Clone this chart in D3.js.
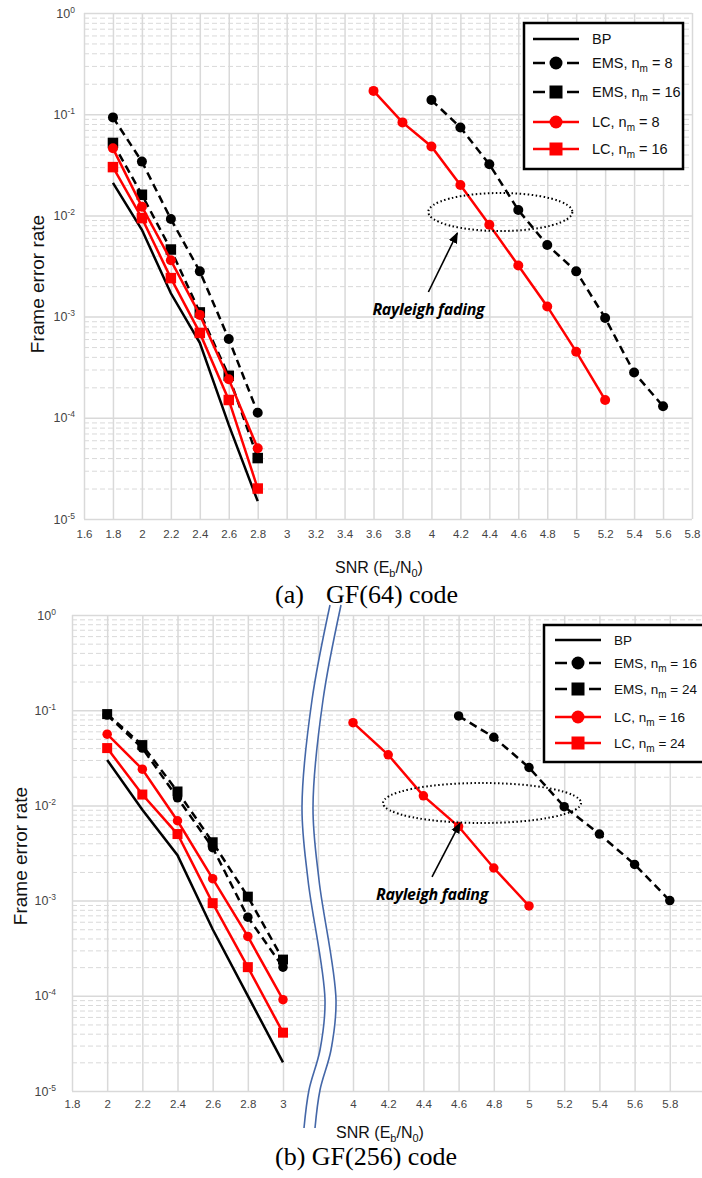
<!DOCTYPE html>
<html>
<head>
<meta charset="utf-8">
<script src="https://cdn.jsdelivr.net/npm/d3@7"></script>
<style>
  body { margin: 0; background: #fff; }
  svg { display: block; font-family: "Liberation Sans", Arial, sans-serif; }
</style>
</head>
<body>
<div id="chart"></div>
<script>
// ---------- (a) GF(64) code ----------
const snrA = [1.8, 2, 2.2, 2.4, 2.6, 2.8];
const bpA = [0.021, 0.0072, 0.0017, 0.00055, 0.000085, 0.000015];
const emsA8 = [0.093, 0.034, 0.0092, 0.0028, 0.0006, 0.000112];
const emsA16 = [0.052, 0.016, 0.0046, 0.0011, 0.00026, 0.00004];
const lcA8 = [0.046, 0.0122, 0.0036, 0.00104, 0.00024, 0.00005];
const lcA16 = [0.030, 0.0094, 0.0024, 0.00069, 0.00015, 0.00002];
// Rayleigh fading, GF(64)
const snrALc = [3.6, 3.8, 4, 4.2, 4.4, 4.6, 4.8, 5, 5.2];
const lcA8Ray = [0.17, 0.083, 0.048, 0.020, 0.0081, 0.0032, 0.00126, 0.00045, 0.00015];
const snrAEms = [4, 4.2, 4.4, 4.6, 4.8, 5, 5.2, 5.4, 5.6];
const emsA8Ray = [0.138, 0.074, 0.032, 0.0113, 0.0051, 0.0028, 0.00097, 0.00028, 0.00013];
const ticksA = [1.6, 1.8, 2, 2.2, 2.4, 2.6, 2.8, 3, 3.2, 3.4, 3.6, 3.8, 4, 4.2, 4.4, 4.6, 4.8, 5, 5.2, 5.4, 5.6, 5.8];

// ---------- (b) GF(256) code ----------
const snrB = [2, 2.2, 2.4, 2.6, 2.8, 3];
const bpB = [0.030, 0.0090, 0.0030, 0.0005, 0.0001, 0.00002];
const emsB16 = [0.089, 0.040, 0.012, 0.0036, 0.00067, 0.00020];
const emsB24 = [0.091, 0.043, 0.014, 0.0041, 0.0011, 0.00024];
const lcB16 = [0.056, 0.024, 0.0069, 0.0017, 0.00042, 0.000091];
const lcB24 = [0.040, 0.013, 0.005, 0.00094, 0.0002, 0.000041];
// Rayleigh fading, GF(256)
const snrBLc = [4, 4.2, 4.4, 4.6, 4.8, 5];
const lcB16Ray = [0.074, 0.034, 0.0126, 0.006, 0.0022, 0.00088];
const snrBEms = [4.6, 4.8, 5, 5.2, 5.4, 5.6, 5.8];
const emsB16Ray = [0.087, 0.052, 0.025, 0.0097, 0.005, 0.0024, 0.001];
const ticksB = [1.8, 2, 2.2, 2.4, 2.6, 2.8, 3, 4, 4.2, 4.4, 4.6, 4.8, 5, 5.2, 5.4, 5.6, 5.8];

const decades = [1, 0.1, 0.01, 0.001, 0.0001, 0.00001];

const svg = d3.select("#chart").append("svg")
  .attr("width", 702)
  .attr("height", 1178);

const defs = svg.append("defs");
defs.append("marker")
  .attr("id", "arrow")
  .attr("viewBox", "0 0 10 10")
  .attr("refX", 9).attr("refY", 5)
  .attr("markerWidth", 7).attr("markerHeight", 7)
  .attr("orient", "auto")
  .append("path")
  .attr("d", "M0,1 L10,5 L0,9 z")
  .attr("fill", "#000");

const zip = (xs, ys) => xs.map((v, i) => ({ x: v, y: ys[i] }));

// series styling
const styles = {
  bp: { color: "#000", dash: null, marker: null },
  emsC: { color: "#000", dash: "8,5", marker: "circle" },
  emsS: { color: "#000", dash: "8,5", marker: "square" },
  lcC: { color: "#ff0000", dash: null, marker: "circle" },
  lcS: { color: "#ff0000", dash: null, marker: "square" }
};

function drawMarker(g, type, cx, cy, size, color) {
  if (type === "circle") {
    g.append("circle").attr("cx", cx).attr("cy", cy).attr("r", size / 2).attr("fill", color);
  } else if (type === "square") {
    g.append("rect").attr("x", cx - size / 2).attr("y", cy - size / 2)
      .attr("width", size).attr("height", size).attr("fill", color);
  }
}

function drawPanel(p) {
  const x = d3.scaleLinear().domain(p.xDomain).range(p.xRange);
  const y = d3.scaleLog().domain([1e-5, 1]).range([p.bottom, p.top]);
  const left = p.xRange[0];
  const right = p.xRange[p.xRange.length - 1];
  const width = right - left;
  const g = svg.append("g");

  // minor dashed grid
  const minor = y.ticks().filter(d => !decades.some(k => Math.abs(d - k) / k < 1e-6));
  g.append("g")
    .attr("transform", `translate(${left},0)`)
    .call(d3.axisLeft(y).tickValues(minor).tickSize(-width).tickFormat(""))
    .call(a => a.select(".domain").remove())
    .selectAll("line")
    .attr("stroke", "#d9d9d9").attr("stroke-width", 1).attr("stroke-dasharray", "5,3");

  // major grid
  g.append("g")
    .attr("transform", `translate(${left},0)`)
    .call(d3.axisLeft(y).tickValues(decades).tickSize(-width).tickFormat(""))
    .call(a => a.select(".domain").remove())
    .selectAll("line")
    .attr("stroke", "#d9d9d9").attr("stroke-width", 1.5);

  g.append("g")
    .attr("transform", `translate(0,${p.bottom})`)
    .call(d3.axisBottom(x).tickValues(p.gridX).tickSize(-(p.bottom - p.top)).tickFormat(""))
    .call(a => a.select(".domain").remove())
    .selectAll("line")
    .attr("stroke", "#d9d9d9").attr("stroke-width", 1.5);

  // tick labels
  g.append("g")
    .attr("transform", `translate(0,${p.bottom})`)
    .call(d3.axisBottom(x).tickValues(p.ticks).tickSize(0).tickPadding(p.xPad).tickFormat(d => d))
    .call(a => a.select(".domain").remove())
    .selectAll("text")
    .attr("font-size", 11.5).attr("fill", "#444").attr("font-family", "Liberation Sans, Arial, sans-serif");

  g.append("g")
    .attr("transform", `translate(${left},0)`)
    .call(d3.axisLeft(y).tickValues(decades).tickSize(0).tickPadding(p.yPad))
    .call(a => a.select(".domain").remove())
    .selectAll("text")
    .attr("font-size", 12.5).attr("fill", "#444").attr("font-family", "Liberation Sans, Arial, sans-serif")
    .each(function(d) {
      const t = d3.select(this).text("");
      t.append("tspan").text("10");
      t.append("tspan").attr("dy", -5).attr("font-size", 8.5).text(Math.round(Math.log10(d)));
    });

  // break symbol
  if (p.brk) {
    const b = p.brk;
    const c = x(b.at);
    const lineGen = d3.line().curve(d3.curveCatmullRom);
    const leftPts = b.path.map(d => [c + d[0], d[1]]);
    const rightPts = b.path.map(d => [c + d[0] + b.gap, d[1]]);
    const band = lineGen(leftPts) + "L" + lineGen(rightPts.slice().reverse()).slice(1) + "Z";
    g.append("path").attr("d", band).attr("fill", "#fff");
    [leftPts, rightPts].forEach(pts => {
      g.append("path").attr("d", lineGen(pts))
        .attr("fill", "none").attr("stroke", "#4467a8").attr("stroke-width", 1.6);
    });
  }

  // series
  p.series.forEach(s => {
    const st = styles[s.style];
    const pts = zip(s.x, s.y);
    g.append("path")
      .datum(pts)
      .attr("d", d3.line().x(d => x(d.x)).y(d => y(d.y)))
      .attr("fill", "none")
      .attr("stroke", st.color)
      .attr("stroke-width", 2.5)
      .attr("stroke-dasharray", st.dash);
    if (st.marker) {
      const mg = g.append("g");
      pts.forEach(d => drawMarker(mg, st.marker, x(d.x), y(d.y), st.marker === "circle" ? p.msize : p.msize + 0.5, st.color));
    }
  });

  // Rayleigh annotation
  const an = p.note;
  g.append("ellipse")
    .attr("cx", x(an.cx)).attr("cy", y(an.cy))
    .attr("rx", an.rx).attr("ry", an.ry)
    .attr("fill", "none").attr("stroke", "#000")
    .attr("stroke-width", 2).attr("stroke-dasharray", "1.5,2.5");
  g.append("line")
    .attr("x1", x(an.tail[0])).attr("y1", y(an.tail[1]))
    .attr("x2", x(an.tip[0])).attr("y2", y(an.tip[1]))
    .attr("stroke", "#000").attr("stroke-width", 1.6)
    .attr("marker-end", "url(#arrow)");
  g.append("text")
    .attr("x", x(an.tx)).attr("y", y(an.ty))
    .attr("text-anchor", "middle")
    .attr("font-family", "Open Sans, sans-serif")
    .attr("font-weight", "bold").attr("font-style", "italic")
    .attr("font-size", 16)
    .attr("letter-spacing", -0.3)
    .text("Rayleigh fading");

  // legend
  const lg = p.legend;
  const lgG = g.append("g");
  lgG.append("rect")
    .attr("x", lg.x).attr("y", lg.y).attr("width", lg.w).attr("height", lg.h)
    .attr("fill", "#fff").attr("stroke", "#000").attr("stroke-width", 2.5);
  lg.items.forEach((it, i) => {
    const st = styles[it.style];
    const yy = lg.rows[i];
    lgG.append("line")
      .attr("x1", lg.sx).attr("x2", lg.sx + 46).attr("y1", yy).attr("y2", yy)
      .attr("stroke", st.color).attr("stroke-width", 2.5)
      .attr("stroke-dasharray", st.dash ? "12,22" : null);
    drawMarker(lgG, st.marker, lg.sx + 23, yy, 13, st.color);
    const t = lgG.append("text").attr("x", lg.tx).attr("y", yy + 5).attr("font-size", lg.fs).attr("fill", "#111");
    if (it.n == null) {
      t.text(it.name);
    } else {
      t.append("tspan").text(it.name + ", n");
      t.append("tspan").attr("dy", 4).attr("font-size", 10).text("m");
      t.append("tspan").attr("dy", -4).text(" = " + it.n);
    }
  });

  // axis titles
  g.append("text")
    .attr("transform", `translate(${p.yTitle[0]},${p.yTitle[1]}) rotate(-90)`)
    .attr("text-anchor", "middle").attr("dy", "0.35em")
    .attr("font-size", 19).attr("fill", "#111")
    .text("Frame error rate");

  const xt = g.append("text")
    .attr("x", p.xTitle[0]).attr("y", p.xTitle[1])
    .attr("text-anchor", "middle").attr("font-size", 16).attr("fill", "#111");
  xt.append("tspan").text("SNR (E");
  xt.append("tspan").attr("dy", 4).attr("font-size", 11).text("b");
  xt.append("tspan").attr("dy", -4).text("/N");
  xt.append("tspan").attr("dy", 4).attr("font-size", 11).text("0");
  xt.append("tspan").attr("dy", -4).text(")");

  // caption
  const cap = g.append("text")
    .attr("y", p.caption.y)
    .attr("font-family", "Liberation Serif, Times New Roman, serif")
    .attr("font-size", 26).attr("fill", "#000");
  p.caption.parts.forEach(pt => cap.append("tspan").attr("x", pt[0]).text(pt[1]));
}

drawPanel({
  xDomain: [1.6, 5.8], xRange: [84, 692],
  top: 13, bottom: 519,
  ticks: ticksA, gridX: ticksA,
  xPad: 11, yPad: 9, msize: 10,
  series: [
    { x: snrA, y: bpA, style: "bp" },
    { x: snrA, y: emsA8, style: "emsC" },
    { x: snrA, y: emsA16, style: "emsS" },
    { x: snrAEms, y: emsA8Ray, style: "emsC" },
    { x: snrA, y: lcA8, style: "lcC" },
    { x: snrA, y: lcA16, style: "lcS" },
    { x: snrALc, y: lcA8Ray, style: "lcC" }
  ],
  note: { cx: 4.476, cy: 0.0108, rx: 72, ry: 19,
          tip: [4.179, 0.0067], tail: [3.979, 0.00175], tx: 3.979, ty: 0.00104 },
  legend: { x: 524, y: 23, w: 159, h: 146, sx: 533, tx: 592, fs: 14.5,
            rows: [39, 63, 92, 122, 149],
            items: [{ name: "BP", style: "bp" }, { name: "EMS", n: 8, style: "emsC" },
                    { name: "EMS", n: 16, style: "emsS" }, { name: "LC", n: 8, style: "lcC" },
                    { name: "LC", n: 16, style: "lcS" }] },
  yTitle: [37, 284], xTitle: [379, 573],
  caption: { y: 603, parts: [[275, "(a)"], [326, "GF(64) code"]] }
});

drawPanel({
  xDomain: [1.8, 3, 4, 6], xRange: [72, 283, 353, 705],
  top: 615, bottom: 1091,
  ticks: ticksB, gridX: ticksB.concat([3.5, 6]),
  xPad: 9, yPad: 16, msize: 9.5,
  series: [
    { x: snrB, y: bpB, style: "bp" },
    { x: snrB, y: emsB24, style: "emsS" },
    { x: snrB, y: emsB16, style: "emsC" },
    { x: snrBEms, y: emsB16Ray, style: "emsC" },
    { x: snrB, y: lcB16, style: "lcC" },
    { x: snrB, y: lcB24, style: "lcS" },
    { x: snrBLc, y: lcB16Ray, style: "lcC" }
  ],
  note: { cx: 4.733, cy: 0.0106, rx: 99, ry: 20,
          tip: [4.608, 0.00653], tail: [4.449, 0.00177], tx: 4.449, ty: 0.00101 },
  legend: { x: 544, y: 625, w: 170, h: 137, sx: 555, tx: 614, fs: 13.5,
            rows: [640, 663, 689, 717, 743],
            items: [{ name: "BP", style: "bp" }, { name: "EMS", n: 16, style: "emsC" },
                    { name: "EMS", n: 24, style: "emsS" }, { name: "LC", n: 16, style: "lcC" },
                    { name: "LC", n: 24, style: "lcS" }] },
  brk: { at: 3.5, gap: 11,
         path: [[12, 605], [-6, 700], [-16, 807], [-10, 880], [7, 1000], [2, 1050], [-9, 1090], [-14, 1128]] },
  yTitle: [20, 856], xTitle: [380, 1138],
  caption: { y: 1165, parts: [[275, "(b) GF(256) code"]] }
});
</script>
</body>
</html>
